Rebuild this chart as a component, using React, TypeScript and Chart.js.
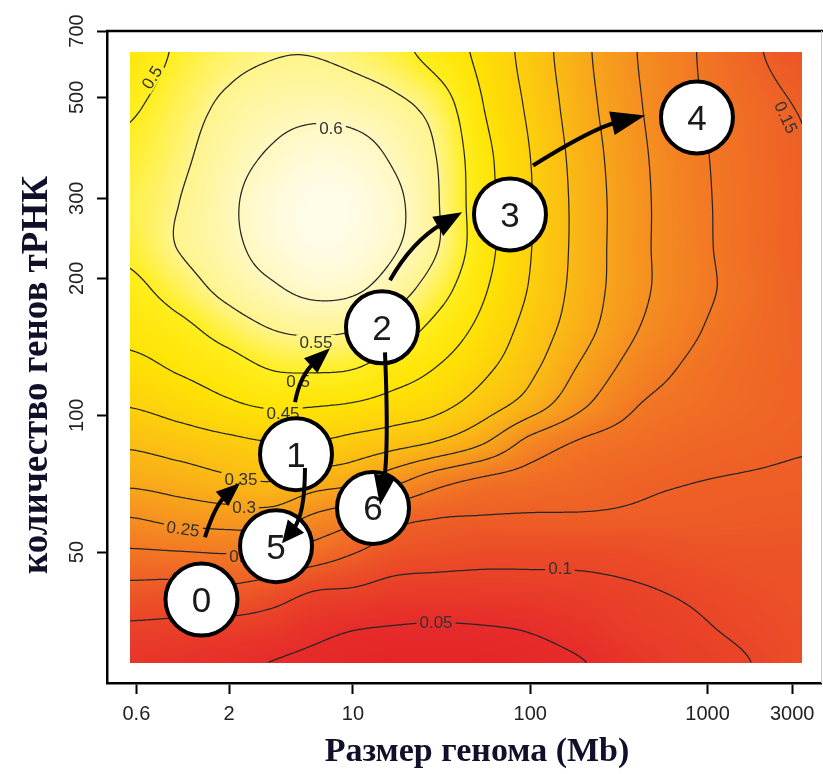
import React, { useEffect, useRef } from 'react';
import { Chart, registerables } from 'chart.js';

Chart.register(...registerables);

// ---------- axes ----------
const X_TICKS = [0.6, 2, 10, 100, 1000, 3000];
const X_TICK_LABELS = ['0.6', '2', '10', '100', '1000', '3000'];
const Y_TICKS = [50, 100, 200, 300, 500, 700];
const Y_TICK_LABELS = ['50', '100', '200', '300', '500', '700'];
const X_TITLE = 'Размер генома (Mb)';
const Y_TITLE = 'количество генов тРНК';

// ---------- heat field ----------
const GRID_X = [0.55, 1, 2, 3.5, 6, 10, 17, 30, 55, 100, 200, 400, 800, 1600, 3400];
const GRID_Y = [630, 470, 370, 290, 235, 190, 155, 127, 105, 87, 72, 60, 50, 41, 34, 28.5];
const FIELD = [
  [0.47, 0.505, 0.535, 0.547, 0.548, 0.537, 0.515, 0.48, 0.435, 0.38, 0.31, 0.25, 0.205, 0.163, 0.13],
  [0.495, 0.525, 0.562, 0.58, 0.587, 0.583, 0.566, 0.53, 0.45, 0.391, 0.318, 0.256, 0.208, 0.177, 0.148],
  [0.51, 0.537, 0.579, 0.607, 0.629, 0.622, 0.593, 0.548, 0.464, 0.4, 0.326, 0.262, 0.213, 0.18, 0.151],
  [0.52, 0.548, 0.59, 0.63, 0.65, 0.646, 0.613, 0.553, 0.467, 0.403, 0.33, 0.265, 0.215, 0.182, 0.153],
  [0.512, 0.55, 0.586, 0.623, 0.645, 0.638, 0.606, 0.552, 0.468, 0.402, 0.33, 0.264, 0.217, 0.18, 0.152],
  [0.487, 0.522, 0.566, 0.593, 0.614, 0.609, 0.574, 0.522, 0.455, 0.396, 0.327, 0.264, 0.217, 0.185, 0.155],
  [0.465, 0.484, 0.523, 0.551, 0.56, 0.553, 0.527, 0.484, 0.435, 0.381, 0.317, 0.252, 0.208, 0.178, 0.158],
  [0.436, 0.4545, 0.478, 0.503, 0.507, 0.502, 0.476, 0.448, 0.41, 0.361, 0.29, 0.228, 0.193, 0.172, 0.157],
  [0.402, 0.419, 0.442, 0.455, 0.452, 0.445, 0.43, 0.413, 0.373, 0.325, 0.255, 0.201, 0.182, 0.168, 0.156],
  [0.358, 0.372, 0.388, 0.399, 0.398, 0.384, 0.368, 0.345, 0.302, 0.233, 0.193, 0.178, 0.164, 0.158, 0.152],
  [0.3125, 0.324, 0.342, 0.352, 0.327, 0.312, 0.267, 0.22, 0.192, 0.179, 0.167, 0.156, 0.151, 0.148, 0.146],
  [0.252, 0.268, 0.278, 0.28, 0.245, 0.218, 0.169, 0.153, 0.149, 0.147, 0.147, 0.145, 0.143, 0.14, 0.138],
  [0.194, 0.198, 0.203, 0.2, 0.179, 0.153, 0.128, 0.121, 0.115, 0.114, 0.113, 0.117, 0.124, 0.128, 0.127],
  [0.135, 0.132, 0.139, 0.125, 0.1, 0.095, 0.083, 0.08, 0.081, 0.083, 0.088, 0.096, 0.105, 0.115, 0.123],
  [0.093, 0.09, 0.085, 0.077, 0.062, 0.052, 0.048, 0.046, 0.048, 0.053, 0.067, 0.085, 0.095, 0.106, 0.118],
  [0.068, 0.063, 0.057, 0.049, 0.042, 0.036, 0.033, 0.032, 0.034, 0.039, 0.049, 0.07, 0.088, 0.098, 0.115],
];
const CONTOUR_LEVELS = [0.05, 0.1, 0.15, 0.2, 0.25, 0.3, 0.35, 0.4, 0.45, 0.5, 0.55, 0.6];

// palette
const COLOR_LEVELS = [0, 0.05, 0.1, 0.15, 0.2, 0.25, 0.3, 0.35, 0.4, 0.45, 0.5, 0.55, 0.6, 0.65];
const COLOR_HEX = ['#E31A28', '#E62C2A', '#EA4528', '#EE6026', '#F27824', '#F58F20', '#F8A51B', '#FBBB14', '#FDD00C', '#FFE305', '#FFEE1E', '#FFF48C', '#FFF8C0', '#FFFCE8'];

// contour labels
const LABEL_TEXT = ['0.5', '0.6', '0.55', '0.5', '0.45', '0.35', '0.3', '0.25', '0.2', '0.15', '0.1', '0.05', '0.15'];
const LABEL_X = [0.735, 7.51, 6.18, 4.9, 4.03, 2.335, 2.43, 1.1, 2.335, 1.173, 147.1, 29.4, 2768];
const LABEL_Y = [553, 427, 144.7, 118.8, 101, 72.3, 62.8, 56.2, 49.0, 43.8, 46.1, 35.1, 451.8];
const LABEL_ANGLE = [-58, 0, 0, 0, 0, 0, 0, 8, 0, 0, 0, 0, 65];

// ---------- states (circles) ----------
const STATE_LABELS = ['0', '5', '1', '6', '2', '3', '4'];
const STATE_X = [1.398, 3.68, 4.77, 12.97, 14.57, 76.8, 871];
const STATE_Y = [39.3, 51.5, 82.1, 62.5, 156.1, 276.5, 451.8];

// ---------- arrows: tail, control, tip ----------
const ARROW_TAIL_X = [1.463, 5.36, 4.71, 15.15, 16.17, 103.6];
const ARROW_TAIL_Y = [53.9, 76.5, 106.8, 137.5, 198.0, 354.3];
const ARROW_CTRL_X = [1.666, 5.36, 5.025, 15.96, 21.51, 228.8];
const ARROW_CTRL_Y = [63.4, 60.3, 122.4, 83.8, 241.3, 429.5];
const ARROW_TIP_X = [2.306, 3.98, 7.42, 14.2, 41.2, 443.6];
const ARROW_TIP_Y = [70.9, 52.3, 140.4, 63.4, 279.4, 456.3];
const ARROW_HEAD_LEN = [24, 22, 26, 30, 28, 34];
const ARROW_HEAD_W = [19, 21, 20, 22, 22, 24];

// ---------- helpers ----------
const GXL = GRID_X.map(Math.log10);
const GYL = GRID_Y.map(Math.log10);
const RGB = COLOR_HEX.map((h) => [parseInt(h.slice(1, 3), 16), parseInt(h.slice(3, 5), 16), parseInt(h.slice(5, 7), 16)]);

function fracIndex(arr: number[], v: number) {
  const n = arr.length;
  const asc = arr[n - 1] > arr[0];
  for (let k = 0; k < n - 1; k++) {
    const a = arr[k], b = arr[k + 1];
    if ((asc && v <= b) || (!asc && v >= b)) {
      const t = (v - a) / (b - a);
      return k + Math.min(1, Math.max(0, t));
    }
  }
  return n - 1;
}
function cr(p0: number, p1: number, p2: number, p3: number, t: number) {
  return 0.5 * (2 * p1 + (-p0 + p2) * t + (2 * p0 - 5 * p1 + 4 * p2 - p3) * t * t + (-p0 + 3 * p1 - 3 * p2 + p3) * t * t * t);
}
function sampleField(fi: number, fj: number) {
  const nx = GRID_X.length, ny = GRID_Y.length;
  let i = Math.floor(fi); if (i > nx - 2) i = nx - 2; if (i < 0) i = 0;
  let j = Math.floor(fj); if (j > ny - 2) j = ny - 2; if (j < 0) j = 0;
  const tx = fi - i, ty = fj - j;
  const c = (k: number) => Math.min(nx - 1, Math.max(0, k));
  const r = (k: number) => Math.min(ny - 1, Math.max(0, k));
  const v: number[] = [];
  for (let d = -1; d <= 2; d++) {
    const R = FIELD[r(j + d)];
    v.push(cr(R[c(i - 1)], R[c(i)], R[c(i + 1)], R[c(i + 2)], tx));
  }
  return cr(v[0], v[1], v[2], v[3], ty);
}
function colorFor(v: number) {
  const n = COLOR_LEVELS.length;
  if (v <= COLOR_LEVELS[0]) return RGB[0];
  if (v >= COLOR_LEVELS[n - 1]) return RGB[n - 1];
  for (let k = 0; k < n - 1; k++) {
    if (v <= COLOR_LEVELS[k + 1]) {
      const t = (v - COLOR_LEVELS[k]) / (COLOR_LEVELS[k + 1] - COLOR_LEVELS[k]);
      const a = RGB[k], b = RGB[k + 1];
      return [a[0] + (b[0] - a[0]) * t, a[1] + (b[1] - a[1]) * t, a[2] + (b[2] - a[2]) * t];
    }
  }
  return RGB[n - 1];
}

const heatPlugin = {
  id: 'heatfield',
  beforeDatasetsDraw(chart: any) {
    const { ctx } = chart;
    const xs = chart.scales.x, ys = chart.scales.y;
    const L = Math.round(xs.getPixelForValue(GRID_X[0]));
    const R = Math.round(xs.getPixelForValue(GRID_X[GRID_X.length - 1]));
    const T = Math.round(ys.getPixelForValue(GRID_Y[0]));
    const B = Math.round(ys.getPixelForValue(GRID_Y[GRID_Y.length - 1]));
    const w = R - L, h = B - T;
    const fx = new Float64Array(w), fy = new Float64Array(h);
    for (let i = 0; i < w; i++) fx[i] = fracIndex(GXL, Math.log10(xs.getValueForPixel(L + i + 0.5)));
    for (let j = 0; j < h; j++) fy[j] = fracIndex(GYL, Math.log10(ys.getValueForPixel(T + j + 0.5)));
    const off = document.createElement('canvas');
    off.width = w; off.height = h;
    const octx = off.getContext('2d')!;
    const img = octx.createImageData(w, h);
    for (let j = 0; j < h; j++) {
      for (let i = 0; i < w; i++) {
        const c = colorFor(sampleField(fx[i], fy[j]));
        const p = (j * w + i) * 4;
        img.data[p] = c[0]; img.data[p + 1] = c[1]; img.data[p + 2] = c[2]; img.data[p + 3] = 255;
      }
    }
    octx.putImageData(img, 0, 0);
    ctx.drawImage(off, L, T);

    // contour sampling grid
    const s = 2;
    const nxs = Math.floor(w / s) + 1, nys = Math.floor(h / s) + 1;
    const F = new Float64Array(nxs * nys);
    const gfx = new Float64Array(nxs), gfy = new Float64Array(nys);
    for (let i = 0; i < nxs; i++) gfx[i] = fracIndex(GXL, Math.log10(xs.getValueForPixel(Math.min(R, L + i * s))));
    for (let j = 0; j < nys; j++) gfy[j] = fracIndex(GYL, Math.log10(ys.getValueForPixel(Math.min(B, T + j * s))));
    for (let j = 0; j < nys; j++) for (let i = 0; i < nxs; i++) F[j * nxs + i] = sampleField(gfx[i], gfy[j]);

    // label holes
    ctx.save();
    ctx.font = '17px "Liberation Sans"';
    const labels = LABEL_TEXT.map((t, k) => {
      const px = xs.getPixelForValue(LABEL_X[k]);
      const py = ys.getPixelForValue(LABEL_Y[k]);
      const tw = ctx.measureText(t).width + 6;
      return { t, px, py, tw, th: 15, a: (LABEL_ANGLE[k] * Math.PI) / 180 };
    });
    ctx.beginPath();
    ctx.rect(L, T, w, h);
    labels.forEach((lb) => {
      const cs = Math.cos(lb.a), sn = Math.sin(lb.a);
      const pts = [[-lb.tw / 2, -lb.th / 2], [lb.tw / 2, -lb.th / 2], [lb.tw / 2, lb.th / 2], [-lb.tw / 2, lb.th / 2]];
      pts.forEach(([u, v], q) => {
        const X = lb.px + u * cs - v * sn, Y = lb.py + u * sn + v * cs;
        if (q === 0) ctx.moveTo(X, Y); else ctx.lineTo(X, Y);
      });
      ctx.closePath();
    });
    ctx.clip('evenodd');
    ctx.strokeStyle = '#262626';
    ctx.lineWidth = 1.25;
    ctx.lineCap = 'round';
    ctx.beginPath();
    for (const lv of CONTOUR_LEVELS) {
      for (let j = 0; j < nys - 1; j++) {
        for (let i = 0; i < nxs - 1; i++) {
          const a = F[j * nxs + i], b = F[j * nxs + i + 1], c = F[(j + 1) * nxs + i + 1], d = F[(j + 1) * nxs + i];
          const idx = (a >= lv ? 8 : 0) | (b >= lv ? 4 : 0) | (c >= lv ? 2 : 0) | (d >= lv ? 1 : 0);
          if (idx === 0 || idx === 15) continue;
          const x0 = L + i * s, y0 = T + j * s;
          const top = () => [x0 + (s * (lv - a)) / (b - a), y0];
          const right = () => [x0 + s, y0 + (s * (lv - b)) / (c - b)];
          const bottom = () => [x0 + (s * (lv - d)) / (c - d), y0 + s];
          const left = () => [x0, y0 + (s * (lv - a)) / (d - a)];
          const seg = (p: number[], q: number[]) => { ctx.moveTo(p[0], p[1]); ctx.lineTo(q[0], q[1]); };
          switch (idx) {
            case 1: case 14: seg(left(), bottom()); break;
            case 2: case 13: seg(bottom(), right()); break;
            case 3: case 12: seg(left(), right()); break;
            case 4: case 11: seg(top(), right()); break;
            case 6: case 9: seg(top(), bottom()); break;
            case 7: case 8: seg(top(), left()); break;
            case 5: seg(top(), left()); seg(bottom(), right()); break;
            case 10: seg(top(), right()); seg(left(), bottom()); break;
          }
        }
      }
    }
    ctx.stroke();
    ctx.restore();

    // label text
    ctx.save();
    ctx.font = '17px "Liberation Sans"';
    ctx.fillStyle = '#333';
    ctx.textAlign = 'center';
    ctx.textBaseline = 'middle';
    labels.forEach((lb) => {
      ctx.save();
      ctx.translate(lb.px, lb.py);
      ctx.rotate(lb.a);
      ctx.fillText(lb.t, 0, 1);
      ctx.restore();
    });
    ctx.restore();
  },
};

const overlayPlugin = {
  id: 'overlay',
  afterDatasetsDraw(chart: any) {
    const { ctx } = chart;
    const xs = chart.scales.x, ys = chart.scales.y;
    const meta = chart.getDatasetMeta(0);
    ctx.save();
    ctx.fillStyle = '#1a1a1a';
    ctx.font = '35px "Liberation Sans"';
    ctx.textAlign = 'center';
    ctx.textBaseline = 'alphabetic';
    meta.data.forEach((el: any, i: number) => {
      ctx.fillText(STATE_LABELS[i], el.x, el.y + 12.5);
    });
    // arrows
    ctx.fillStyle = '#000';
    ctx.strokeStyle = '#000';
    ctx.lineWidth = 4;
    for (let k = 0; k < ARROW_TAIL_X.length; k++) {
      const p0 = { x: xs.getPixelForValue(ARROW_TAIL_X[k]), y: ys.getPixelForValue(ARROW_TAIL_Y[k]) };
      const c = { x: xs.getPixelForValue(ARROW_CTRL_X[k]), y: ys.getPixelForValue(ARROW_CTRL_Y[k]) };
      const p1 = { x: xs.getPixelForValue(ARROW_TIP_X[k]), y: ys.getPixelForValue(ARROW_TIP_Y[k]) };
      const dx = p1.x - c.x, dy = p1.y - c.y;
      const len = Math.hypot(dx, dy);
      const ux = dx / len, uy = dy / len;
      const hl = ARROW_HEAD_LEN[k], hw = ARROW_HEAD_W[k];
      const bx = p1.x - ux * hl * 0.8, by = p1.y - uy * hl * 0.8;
      ctx.beginPath();
      ctx.moveTo(p0.x, p0.y);
      ctx.quadraticCurveTo(c.x, c.y, bx, by);
      ctx.stroke();
      const hx = p1.x - ux * hl, hy = p1.y - uy * hl;
      ctx.beginPath();
      ctx.moveTo(p1.x, p1.y);
      ctx.lineTo(hx - (uy * hw) / 2, hy + (ux * hw) / 2);
      ctx.lineTo(hx + (uy * hw) / 2, hy - (ux * hw) / 2);
      ctx.closePath();
      ctx.fill();
    }
    ctx.restore();
  },
  afterDraw(chart: any) {
    const { ctx, chartArea } = chart;
    const xs = chart.scales.x, ys = chart.scales.y;
    ctx.save();
    // top and right frame
    ctx.strokeStyle = '#000';
    ctx.lineWidth = 2.5;
    ctx.beginPath();
    ctx.moveTo(chartArea.left - 1, chartArea.top);
    ctx.lineTo(chartArea.right + 2, chartArea.top);
    ctx.stroke();
    ctx.strokeStyle = '#c8c8c8';
    ctx.lineWidth = 1;
    ctx.beginPath();
    ctx.moveTo(chartArea.right + 0.5, chartArea.top);
    ctx.lineTo(chartArea.right + 0.5, chartArea.bottom);
    ctx.stroke();
    // tick labels through the scales
    ctx.fillStyle = '#222';
    ctx.font = '20px "Liberation Sans"';
    ctx.textAlign = 'center';
    ctx.textBaseline = 'middle';
    X_TICKS.forEach((v, i) => {
      ctx.fillText(X_TICK_LABELS[i], xs.getPixelForValue(v), chartArea.bottom + 31);
    });
    Y_TICKS.forEach((v, i) => {
      ctx.save();
      ctx.translate(chartArea.left - 30, ys.getPixelForValue(v));
      ctx.rotate(-Math.PI / 2);
      ctx.fillText(Y_TICK_LABELS[i], 0, 0);
      ctx.restore();
    });
    // titles
    ctx.fillStyle = '#10102a';
    ctx.font = 'bold 34px "Liberation Serif"';
    ctx.fillText(X_TITLE, 477, 752);
    ctx.save();
    ctx.translate(37, 375);
    ctx.rotate(-Math.PI / 2);
    ctx.font = 'bold 37px "Liberation Serif"';
    ctx.fillText(Y_TITLE, 0, 0);
    ctx.restore();
    ctx.restore();
  },
};

export default function App() {
  const ref = useRef<HTMLCanvasElement>(null);
  useEffect(() => {
    const canvas = ref.current!;
    const chart = new Chart(canvas, {
      type: 'scatter',
      data: {
        datasets: [
          {
            data: STATE_X.map((x, i) => ({ x, y: STATE_Y[i] })),
            pointRadius: 36,
            pointHoverRadius: 36,
            pointBackgroundColor: '#fff',
            pointBorderColor: '#000',
            pointBorderWidth: 4,
            pointHoverBorderWidth: 4,
            clip: false,
          } as any,
        ],
      },
      options: {
        animation: false,
        responsive: false,
        devicePixelRatio: 1,
        events: [],
        layout: { autoPadding: false, padding: { top: 31, right: 2, bottom: 0, left: 0 } },
        plugins: { legend: { display: false }, tooltip: { enabled: false } },
        scales: {
          x: {
            type: 'logarithmic',
            min: 0.4098,
            max: 4361,
            afterBuildTicks: (s: any) => { s.ticks = X_TICKS.map((v) => ({ value: v })); },
            afterFit: (s: any) => { s.height = 91; s.paddingLeft = 0; s.paddingRight = 0; },
            ticks: { display: false, autoSkip: false },
            grid: { display: true, drawOnChartArea: false, drawTicks: true, tickLength: 11, tickWidth: 2, tickColor: '#000' },
            border: { display: true, color: '#000', width: 2.5 },
          },
          y: {
            type: 'logarithmic',
            min: 25.76,
            max: 700,
            afterBuildTicks: (s: any) => { s.ticks = Y_TICKS.map((v) => ({ value: v })); },
            afterFit: (s: any) => { s.width = 107; s.paddingTop = 0; s.paddingBottom = 0; },
            ticks: { display: false, autoSkip: false },
            grid: { display: true, drawOnChartArea: false, drawTicks: true, tickLength: 10, tickWidth: 2, tickColor: '#000' },
            border: { display: true, color: '#000', width: 2.5 },
          },
        },
      } as any,
      plugins: [heatPlugin, overlayPlugin],
    });
    return () => chart.destroy();
  }, []);
  return (
    <div style={{ position: 'fixed', left: 0, top: 0, width: 823, height: 774, background: '#fff' }}>
      <canvas ref={ref} width={823} height={774} style={{ display: 'block', width: 823, height: 774 }} />
    </div>
  );
}
